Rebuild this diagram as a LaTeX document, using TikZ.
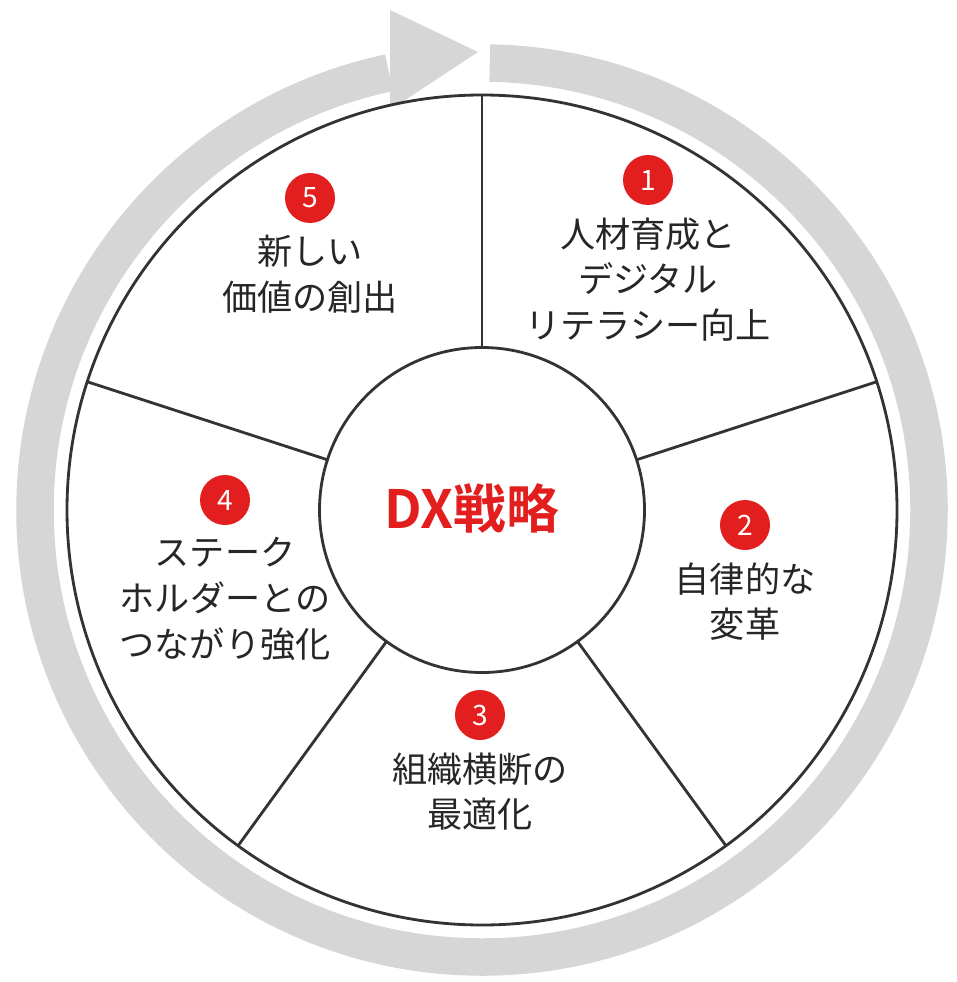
\documentclass[tikz,border=0pt]{standalone}
\usepackage{fontspec}
\setmainfont{Noto Sans CJK JP}[BoldFont=Noto Sans CJK JP Bold]
\usetikzlibrary{positioning,calc}
\definecolor{dxred}{RGB}{226,30,30}
\definecolor{ringgray}{RGB}{214,214,214}
\tikzset{
  num/.style={circle,fill=dxred,text=white,minimum size=1cm,inner sep=0pt,font=\fontsize{16}{16}\selectfont},
  label/.style={align=center,font=\fontsize{20}{26}\selectfont,text=black!85},
}
\begin{document}
\begin{tikzpicture}
    \useasboundingbox (0,0) rectangle (19.12,-19.64);
    \coordinate (C) at (9.64,-10.2);
    % Ring arrow
    \draw[ringgray,line width=0.75cm] ($(C)+(89:8.94)$) arc[start angle=89,end angle=-258,radius=8.94];
    \fill[ringgray] (7.8,-0.2) -- (9.56,-1.04) -- (7.8,-2.2) -- cycle;
    % Circles and dividers
    \draw[black!80,line width=1.6pt,fill=white] (C) circle[radius=8.3];
    \foreach \a in {90,18,-54,-126,162}
        \draw[black!80,line width=1.6pt] ($(C)+(\a:3.25)$) -- ($(C)+(\a:8.3)$);
    \draw[black!80,line width=1.6pt,fill=white] (C) circle[radius=3.25];
    \node (dx) at (9.44,-10.16) {\fontsize{30}{30}\selectfont\bfseries\color{dxred}DX戦略};
    % Segments
    \node[num] (n1) at (12.96,-3.6) {1};
    \node[label,below=0.12cm of n1] (t1) {人材育成と\\デジタル\\リテラシー向上};
    \node[num] (n2) at (14.9,-10.5) {2};
    \node[label,below=0.12cm of n2] (t2) {自律的な\\変革};
    \node[num] (n3) at (9.6,-14.3) {3};
    \node[label,below=0.12cm of n3] (t3) {組織横断の\\最適化};
    \node[num] (n4) at (4.5,-10.0) {4};
    \node[label,below=0.12cm of n4] (t4) {ステーク\\ホルダーとの\\つながり強化};
    \node[num] (n5) at (6.2,-3.96) {5};
    \node[label,below=0.12cm of n5] (t5) {新しい\\価値の創出};
\end{tikzpicture}
\end{document}
